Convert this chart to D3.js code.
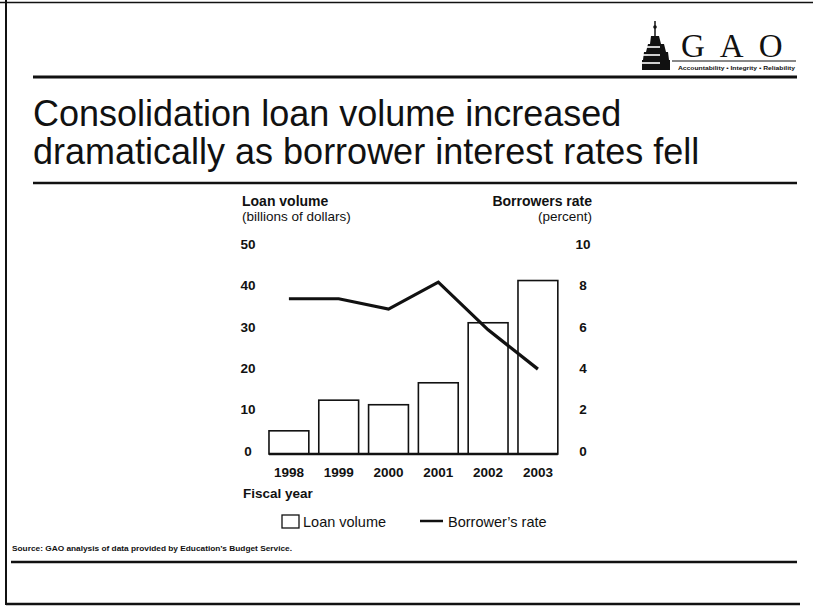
<!DOCTYPE html>
<html>
<head>
<meta charset="utf-8">
<script src="https://cdn.jsdelivr.net/npm/d3@7"></script>
<style>
  html, body { margin: 0; padding: 0; background: #fff; }
  svg { display: block; }
  text { font-family: "Liberation Sans", Arial, Helvetica, sans-serif; fill: #111; }
</style>
</head>
<body>
<svg id="chart" width="813" height="607"></svg>
<script>
// Fiscal years and the two series plotted against them
const years = ["1998", "1999", "2000", "2001", "2002", "2003"];
const loanVolume = [5.6, 13.0, 11.9, 17.2, 31.7, 41.9];   // billions of dollars
const borrowerRate = [7.5, 7.5, 7.0, 8.3, 6.0, 4.1];      // percent

const volumeTicks = [0, 10, 20, 30, 40, 50];
const rateTicks = [0, 2, 4, 6, 8, 10];

const titleLines = [
  "Consolidation loan volume increased",
  "dramatically as borrower interest rates fell"
];
const sourceNote = "Source: GAO analysis of data provided by Education\u2019s Budget Service.";

const svg = d3.select("#chart");

// ---- page frame and rules ----
const ink = "#111";
svg.append("line").attr("x1", 0).attr("x2", 813).attr("y1", 2.5).attr("y2", 2.5)
  .attr("stroke", ink).attr("stroke-width", 1.5);
svg.append("line").attr("x1", 6).attr("x2", 6).attr("y1", 0).attr("y2", 605)
  .attr("stroke", ink).attr("stroke-width", 2);
svg.append("line").attr("x1", 6).attr("x2", 800).attr("y1", 604).attr("y2", 604)
  .attr("stroke", ink).attr("stroke-width", 2.5);

const rule = (y, x1, x2, w) => svg.append("line")
  .attr("x1", x1).attr("x2", x2).attr("y1", y).attr("y2", y)
  .attr("stroke", ink).attr("stroke-width", w);
rule(77, 33, 797, 3);
rule(183, 33, 797, 2.5);
rule(562, 11, 797, 2.5);

// ---- GAO mark ----
const logo = svg.append("g");
// capitol dome: spire, then stepped tiers with white bands
logo.append("line").attr("x1", 655).attr("x2", 655).attr("y1", 21).attr("y2", 36)
  .attr("stroke", ink).attr("stroke-width", 1.5);
logo.append("circle").attr("cx", 655).attr("cy", 27).attr("r", 1.8).attr("fill", ink);
logo.append("path")
  .attr("d", "M651,36 L659,36 L661,44 L664,44 L666,52 L668,52 L669,60 L670,60 L670,70 L642,70 L642,60 L643,60 L644,52 L646,52 L648,44 L650,44 Z")
  .attr("fill", ink);
[47, 55, 63].forEach(y => logo.append("line")
  .attr("x1", 641).attr("x2", 660).attr("y1", y).attr("y2", y)
  .attr("stroke", "#fff").attr("stroke-width", 1.6));
logo.append("text").attr("x", 681).attr("y", 57)
  .style("font-family", "'Liberation Serif', 'Times New Roman', serif")
  .style("font-size", "33px").style("letter-spacing", "15px")
  .text("GAO");
logo.append("line").attr("x1", 672).attr("x2", 796).attr("y1", 61).attr("y2", 61)
  .attr("stroke", ink).attr("stroke-width", 1.2);
logo.append("text").attr("x", 678).attr("y", 70)
  .attr("textLength", 117).attr("lengthAdjust", "spacingAndGlyphs")
  .style("font-size", "5px").style("font-weight", "bold")
  .text("Accountability \u2022 Integrity \u2022 Reliability");

// ---- title ----
svg.append("g").selectAll("text").data(titleLines).join("text")
  .attr("x", 33).attr("y", (d, i) => 126 + i * 38)
  .style("font-size", "36px")
  .text(d => d);

// ---- chart ----
const x = d3.scaleBand().domain(years).range([264, 562.8])
  .paddingInner(0.2).paddingOuter(0.1);
const yVol = d3.scaleLinear().domain([0, 50]).range([454, 247]);
const yRate = d3.scaleLinear().domain([0, 10]).range([454, 247]);

const bold = "13.5px";

// axis headings
const heads = svg.append("g").style("font-size", "14px");
heads.append("text").attr("x", 242).attr("y", 206).style("font-weight", "bold").text("Loan volume");
heads.append("text").attr("x", 242).attr("y", 221).style("font-size", "13.5px").text("(billions of dollars)");
heads.append("text").attr("x", 592).attr("y", 206).attr("text-anchor", "end").style("font-weight", "bold").text("Borrowers rate");
heads.append("text").attr("x", 592).attr("y", 221).attr("text-anchor", "end").style("font-size", "13.5px").text("(percent)");

// left and right value axes: labels only
function styleAxis(g) {
  g.select(".domain").remove();
  g.selectAll("line").remove();
  g.selectAll("text")
    .attr("x", 0).attr("text-anchor", "middle")
    .style("font-family", "'Liberation Sans', Arial, sans-serif")
    .style("font-size", bold).style("font-weight", "bold").style("fill", ink);
}
svg.append("g").attr("transform", "translate(248,-3)")
  .call(d3.axisLeft(yVol).tickValues(volumeTicks).tickSize(0).tickFormat(d3.format("d")))
  .call(styleAxis);
svg.append("g").attr("transform", "translate(583,-3)")
  .call(d3.axisRight(yRate).tickValues(rateTicks).tickSize(0).tickFormat(d3.format("d")))
  .call(styleAxis);

// year labels
svg.append("g").attr("transform", "translate(0,454)")
  .call(d3.axisBottom(x).tickSize(0).tickPadding(13.5))
  .call(g => {
    g.select(".domain").remove();
    g.selectAll("text")
      .style("font-family", "'Liberation Sans', Arial, sans-serif")
      .style("font-size", bold).style("font-weight", "bold").style("fill", ink);
  });
svg.append("text").attr("x", 243).attr("y", 498)
  .style("font-size", "13.5px").style("font-weight", "bold").text("Fiscal year");

// bars
svg.append("g").selectAll("rect").data(years).join("rect")
  .attr("x", d => x(d))
  .attr("width", x.bandwidth())
  .attr("y", (d, i) => yVol(loanVolume[i]))
  .attr("height", (d, i) => yVol(0) - yVol(loanVolume[i]))
  .attr("fill", "#fff").attr("stroke", ink).attr("stroke-width", 1.6);

// baseline under the bars
svg.append("line")
  .attr("x1", x(years[0])).attr("x2", x(years[years.length - 1]) + x.bandwidth())
  .attr("y1", yVol(0)).attr("y2", yVol(0))
  .attr("stroke", ink).attr("stroke-width", 2.5);

// borrower rate line
const rateLine = d3.line()
  .x((d, i) => x(years[i]) + x.bandwidth() / 2)
  .y(d => yRate(d));
svg.append("path").datum(borrowerRate)
  .attr("d", rateLine)
  .attr("fill", "none").attr("stroke", ink).attr("stroke-width", 3.2)
  .attr("stroke-linejoin", "miter");

// legend
const legend = svg.append("g").style("font-size", "14.5px");
legend.append("rect").attr("x", 282).attr("y", 515).attr("width", 17).attr("height", 13)
  .attr("fill", "#fff").attr("stroke", ink).attr("stroke-width", 1.3);
legend.append("text").attr("x", 303).attr("y", 527).text("Loan volume");
legend.append("line").attr("x1", 420).attr("x2", 443).attr("y1", 521).attr("y2", 521)
  .attr("stroke", ink).attr("stroke-width", 2.5);
legend.append("text").attr("x", 448).attr("y", 527).text("Borrower\u2019s rate");

// source note
svg.append("text").attr("x", 12).attr("y", 551)
  .attr("textLength", 280).attr("lengthAdjust", "spacingAndGlyphs")
  .style("font-size", "7px").style("font-weight", "bold")
  .text(sourceNote);
</script>
</body>
</html>
